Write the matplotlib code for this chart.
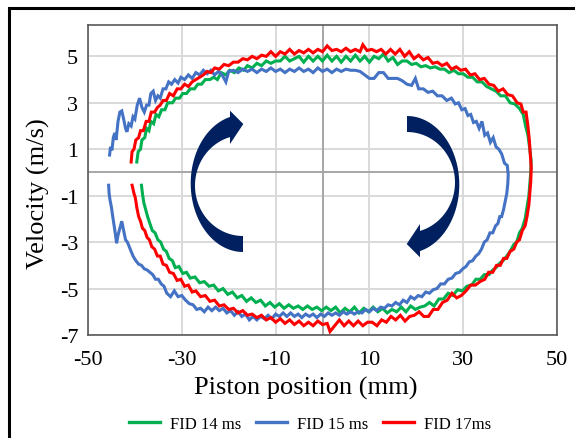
import numpy as np
import matplotlib
matplotlib.use("Agg")
import matplotlib.pyplot as plt
from matplotlib.patches import Polygon, Rectangle

plt.rcParams['font.family'] = ['Liberation Serif', 'DejaVu Serif']

# ---------------- data ----------------
labels = ["FID 14 ms", "FID 15 ms", "FID 17ms"]
colors = ["#00B050", "#4472C4", "#FF0000"]

x_ticks = [-50, -30, -10, 10, 30, 50]
y_ticks = [-7, -5, -3, -1, 1, 3, 5]

fid14_x = [-39.6, -39.3, -38.8, -38.5, -37.9, -37.5, -37.0, -36.6, -36.0, -35.5, -34.9, -34.3, -33.6, -33.0, -32.0,
           -31.3, -30.5, -29.8, -29.0, -28.2, -27.3, -26.6, -25.8, -25.0, -24.0, -23.2, -22.4, -21.6, -20.6, -19.8,
           -18.8, -17.8, -16.8, -16.0, -15.0, -14.0, -13.0, -12.0, -11.0, -10.0, -9.0, -8.0, -7.0, -6.0, -5.0,
           -4.0, -3.0, -2.0, -1.0, 0.0, 1.0, 2.0, 3.0, 4.0, 5.0, 6.0, 7.0, 8.0, 9.0, 10.0,
           11.0, 12.0, 13.0, 14.0, 15.0, 16.0, 17.0, 18.0, 19.0, 20.0, 21.0, 22.0, 23.0, 24.0, 25.0,
           26.0, 27.0, 28.0, 29.0, 30.0, 31.0, 32.0, 33.0, 34.0, 35.0, 36.0, 37.0, 38.0, 39.0, 40.0,
           41.0, 42.0, 42.8, 43.3, 43.8, 44.2, 44.5, 44.4, 44.2, 44.0, 43.6, 43.2, 42.6, 42.0, 41.4,
           40.8, 40.0, 39.3, 38.5, 37.8, 37.0, 36.3, 35.5, 34.5, 33.6, 32.7, 31.8, 30.8, 29.8, 28.8,
           27.8, 26.8, 25.8, 24.8, 23.8, 22.8, 21.8, 20.8, 19.8, 18.8, 17.8, 16.8, 15.8, 14.8, 13.8,
           12.8, 11.8, 10.8, 9.8, 8.8, 7.8, 6.8, 5.8, 4.8, 3.8, 2.8, 1.8, 0.8, -0.2, -1.2,
           -2.2, -3.2, -4.2, -5.2, -6.2, -7.2, -8.2, -9.2, -10.2, -11.2, -12.2, -13.2, -14.2, -15.2, -16.2,
           -17.2, -18.2, -19.2, -20.2, -21.2, -22.2, -23.2, -24.2, -25.2, -26.2, -27.2, -28.2, -29.0, -29.8, -30.6,
           -31.4, -32.0, -32.7, -33.3, -33.9, -34.5, -35.1, -35.7, -36.3, -36.8, -37.3, -37.7, -38.1, -38.4, -38.6]
fid14_y = [0.45, 0.9, 1.0, 1.4, 1.5, 1.9, 1.8, 2.2, 2.1, 2.5, 2.4, 2.7, 2.7, 3.0, 3.0,
           3.2, 3.2, 3.4, 3.4, 3.6, 3.6, 3.8, 3.8, 4.0, 4.0, 4.1, 4.0, 4.3, 4.2, 4.4,
           4.3, 4.5, 4.4, 4.6, 4.5, 4.7, 4.6, 4.8, 4.7, 4.8, 4.8, 5.0, 4.8, 4.9, 5.0,
           4.75, 5.0, 4.8, 5.0, 4.8, 5.05, 4.8, 5.0, 4.75, 5.0, 4.8, 5.05, 4.8, 5.0, 4.75,
           5.0, 4.9, 5.1, 4.8, 4.95, 4.65, 4.8, 4.8, 4.65, 4.7, 4.55, 4.6, 4.5, 4.55, 4.45,
           4.45, 4.3, 4.4, 4.25, 4.25, 4.1, 4.1, 3.9, 3.9, 3.7, 3.6, 3.5, 3.3, 3.3, 3.0,
           2.95, 2.75, 2.5, 2.0, 1.6, 1.0, 0.5, 0.0, -0.5, -1.0, -1.5, -2.0, -2.4, -2.6, -3.0,
           -3.1, -3.4, -3.6, -3.8, -3.9, -4.1, -4.2, -4.4, -4.4, -4.6, -4.6, -4.85, -4.9, -5.1, -5.05,
           -5.3, -5.2, -5.45, -5.45, -5.75, -5.6, -5.75, -5.8, -5.9, -5.75, -6.0, -5.8, -6.0, -5.9, -6.05,
           -5.85, -6.0, -5.8, -6.0, -5.85, -6.05, -5.8, -6.0, -5.85, -6.05, -5.8, -5.95, -5.8, -5.95, -5.8,
           -5.9, -5.75, -5.9, -5.75, -5.85, -5.7, -5.85, -5.65, -5.8, -5.6, -5.75, -5.5, -5.6, -5.4, -5.55,
           -5.3, -5.4, -5.15, -5.25, -5.0, -5.1, -4.85, -4.9, -4.7, -4.75, -4.5, -4.55, -4.3, -4.35, -4.05,
           -4.1, -3.8, -3.7, -3.4, -3.3, -3.0, -2.9, -2.6, -2.5, -2.2, -1.9, -1.6, -1.3, -0.9, -0.55]

fid15_x = [-45.4, -45.2, -44.9, -44.6, -44.3, -44.0, -43.6, -43.2, -42.8, -42.4, -42.0, -41.7, -41.3, -40.8, -40.4,
           -40.0, -39.5, -39.0, -38.5, -38.0, -37.5, -37.0, -36.6, -36.1, -35.6, -35.1, -34.6, -34.0, -33.4, -32.8,
           -32.2, -31.5, -30.8, -30.2, -29.4, -28.6, -27.8, -27.0, -26.2, -25.4, -24.6, -23.8, -23.0, -22.2, -21.4,
           -20.6, -20.0, -19.0, -18.0, -17.0, -16.0, -15.0, -14.0, -13.0, -12.0, -11.0, -10.0, -9.0, -8.0, -7.0,
           -6.0, -5.0, -4.0, -3.0, -2.0, -1.0, 0.0, 1.0, 2.0, 3.0, 4.0, 5.0, 6.0, 7.0, 8.0,
           9.0, 10.0, 11.0, 12.0, 13.0, 14.0, 15.0, 16.0, 17.0, 18.0, 19.0, 19.8, 20.5, 21.5, 22.5,
           23.5, 24.5, 25.5, 26.5, 27.5, 28.3, 29.0, 29.7, 30.4, 31.0, 31.6, 32.2, 32.8, 33.4, 34.0,
           34.6, 35.2, 35.8, 36.4, 37.0, 37.6, 38.2, 38.8, 39.4, 39.6, 39.5, 39.3, 39.0, 38.6, 38.2,
           37.8, 37.4, 36.9, 36.3, 35.7, 35.1, 34.5, 33.9, 33.3, 32.7, 32.0, 31.3, 30.6, 29.9, 29.2,
           28.4, 27.6, 26.8, 26.0, 25.2, 24.4, 23.6, 22.8, 22.0, 21.2, 20.4, 19.6, 18.8, 18.0, 17.2,
           16.4, 15.6, 14.8, 14.0, 13.2, 12.4, 11.6, 10.8, 10.0, 9.2, 8.4, 7.6, 6.8, 6.0, 5.2,
           4.4, 3.6, 2.8, 2.0, 1.2, 0.4, -0.4, -1.2, -2.0, -2.8, -3.6, -4.4, -5.2, -6.0, -6.8,
           -7.6, -8.4, -9.2, -10.0, -10.8, -11.6, -12.4, -13.2, -14.0, -14.8, -15.6, -16.4, -17.2, -18.0, -18.8,
           -19.6, -20.4, -21.2, -22.0, -22.8, -23.6, -24.4, -25.2, -26.0, -26.8, -27.6, -28.4, -29.2, -30.0, -30.8,
           -31.6, -32.4, -33.2, -33.8, -34.4, -35.0, -35.6, -36.2, -36.8, -37.4, -38.0, -38.6, -39.2, -39.8, -40.4,
           -41.0, -41.6, -42.0, -42.4, -42.8, -43.2, -43.6, -43.9, -44.2, -44.5, -44.8, -45.0, -45.3, -45.5, -45.6]
fid15_y = [0.75, 1.1, 0.95, 1.5, 1.7, 1.4, 2.2, 2.6, 2.65, 2.3, 1.9, 1.75, 2.1, 2.0, 2.4,
           2.3, 2.9, 3.2, 2.8, 2.6, 2.9, 2.9, 3.4, 3.5, 3.1, 3.3, 3.2, 3.6, 3.6, 3.9,
           3.8, 4.0, 3.85, 4.1, 4.0, 4.2, 4.05, 4.3, 4.2, 4.4, 4.25, 4.4, 4.2, 4.35, 4.2,
           3.9, 4.35, 4.4, 4.3, 4.45, 4.35, 4.45, 4.3, 4.45, 4.35, 4.5, 4.35, 4.45, 4.3, 4.45,
           4.35, 4.5, 4.35, 4.45, 4.3, 4.5, 4.35, 4.45, 4.3, 4.45, 4.35, 4.45, 4.4, 4.4, 4.35,
           4.2, 4.05, 4.05, 4.3, 4.3, 4.05, 4.05, 4.05, 3.95, 3.8, 3.75, 4.05, 3.6, 3.6, 3.45,
           3.5, 3.3, 3.3, 3.1, 3.2, 2.95, 3.0, 2.7, 2.75, 2.45, 2.5, 2.15, 2.2, 1.9, 2.2,
           1.6, 1.7, 1.3, 1.5, 1.1, 1.0, 0.8, 0.4, 0.3, -0.1, -0.5, -0.9, -1.2, -1.6, -1.9,
           -1.9, -2.2, -2.3, -2.6, -2.6, -2.9, -3.0, -3.3, -3.5, -3.6, -3.8, -3.85, -4.05, -4.15, -4.3,
           -4.35, -4.55, -4.6, -4.8, -4.8, -5.0, -5.05, -5.2, -5.15, -5.35, -5.3, -5.45, -5.35, -5.6, -5.5,
           -5.7, -5.6, -5.75, -5.7, -5.85, -5.8, -5.95, -5.85, -6.0, -5.9, -6.05, -6.0, -6.1, -6.0, -6.1,
           -6.0, -6.15, -6.05, -6.15, -6.05, -6.2, -6.1, -6.25, -6.1, -6.2, -6.1, -6.25, -6.1, -6.2, -6.05,
           -6.2, -6.05, -6.2, -6.1, -6.3, -6.15, -6.3, -6.2, -6.35, -6.2, -6.35, -6.1, -6.2, -6.0, -6.15,
           -5.95, -6.05, -5.85, -5.95, -5.8, -5.95, -5.8, -6.0, -5.85, -5.9, -5.7, -5.65, -5.5, -5.3, -5.35,
           -5.1, -5.35, -5.2, -4.9, -4.8, -4.6, -4.6, -4.4, -4.3, -4.2, -4.15, -4.0, -3.95, -3.8, -3.6,
           -3.3, -3.0, -2.9, -2.5, -2.1, -2.4, -2.7, -3.05, -2.6, -2.2, -1.8, -1.5, -1.2, -0.9, -0.55]

fid17_x = [-40.8, -40.6, -40.2, -39.8, -39.2, -38.8, -38.2, -37.6, -37.0, -36.5, -35.8, -35.2, -34.6, -34.0, -33.3,
           -32.6, -31.8, -31.0, -30.2, -29.4, -28.6, -27.8, -27.0, -26.2, -25.4, -24.6, -23.8, -23.0, -22.0, -21.0,
           -20.0, -19.0, -18.0, -17.0, -16.0, -15.0, -14.0, -13.0, -12.0, -11.0, -10.0, -9.0, -8.0, -7.0, -6.0,
           -5.0, -4.0, -3.0, -2.0, -1.0, 0.0, 1.0, 2.0, 3.0, 4.0, 5.0, 6.0, 7.0, 8.0, 8.6,
           9.5, 10.5, 11.5, 12.5, 13.5, 14.5, 15.5, 16.5, 17.5, 18.5, 19.5, 20.5, 21.5, 22.5, 23.5,
           24.5, 25.5, 26.5, 27.5, 28.5, 29.5, 30.5, 31.5, 32.5, 33.5, 34.5, 35.5, 36.5, 37.5, 38.5,
           39.5, 40.5, 41.5, 42.3, 42.8, 43.4, 43.8, 44.1, 44.3, 44.5, 44.4, 44.2, 44.0, 43.6, 43.2,
           42.6, 42.0, 41.4, 40.8, 40.0, 39.3, 38.6, 37.9, 37.1, 36.3, 35.4, 34.6, 33.6, 32.6, 31.6,
           30.6, 29.6, 28.6, 27.6, 26.6, 25.6, 24.6, 23.6, 22.6, 21.6, 20.6, 19.6, 18.6, 17.6, 16.6,
           15.6, 14.6, 13.6, 12.6, 11.6, 10.6, 9.6, 8.6, 7.6, 6.6, 5.6, 4.6, 3.6, 2.6, 1.6,
           1.0, 0.0, -1.0, -2.0, -3.0, -4.0, -5.0, -6.0, -7.0, -8.0, -9.0, -10.0, -11.0, -12.0, -13.0,
           -14.0, -15.0, -16.0, -17.0, -18.0, -19.0, -20.0, -21.0, -22.0, -23.0, -24.0, -25.0, -26.0, -27.0, -27.8,
           -28.6, -29.4, -30.2, -31.0, -31.8, -32.6, -33.3, -34.0, -34.6, -35.2, -35.8, -36.4, -36.9, -37.4, -37.9,
           -38.4, -38.8, -39.2, -39.6, -39.9, -40.2, -40.6]
fid17_y = [0.45, 0.9, 1.0, 1.4, 1.5, 1.8, 1.8, 2.2, 2.2, 2.6, 2.6, 2.8, 2.9, 3.1, 3.1,
           3.4, 3.3, 3.6, 3.6, 3.8, 3.7, 3.9, 4.0, 4.1, 4.2, 4.35, 4.3, 4.5, 4.45, 4.65,
           4.6, 4.75, 4.75, 4.9, 4.85, 5.0, 4.9, 5.05, 5.0, 5.2, 5.0, 5.2, 5.1, 5.3, 5.1,
           5.25, 5.15, 5.3, 5.15, 5.3, 5.2, 5.45, 5.25, 5.3, 5.2, 5.35, 5.2, 5.3, 5.2, 5.5,
           5.25, 5.3, 5.2, 5.3, 5.1, 5.3, 5.1, 5.3, 5.0, 5.2, 4.9, 5.05, 4.85, 4.95, 4.7,
           4.75, 4.6, 4.7, 4.45, 4.55, 4.4, 4.45, 4.2, 4.25, 4.0, 4.05, 3.8, 3.75, 3.5, 3.6,
           3.35, 3.3, 3.0, 2.95, 2.6, 2.6, 2.0, 1.4, 0.8, 0.2, -0.4, -0.9, -1.4, -1.9, -2.3,
           -2.5, -2.9, -3.0, -3.3, -3.4, -3.7, -3.7, -4.0, -4.0, -4.3, -4.3, -4.6, -4.7, -4.85, -4.85,
           -5.1, -5.3, -5.4, -5.2, -5.5, -5.6, -5.9, -5.9, -6.2, -6.2, -6.0, -6.15, -6.2, -6.4, -6.15,
           -6.35, -6.2, -6.45, -6.35, -6.6, -6.45, -6.45, -6.6, -6.4, -6.6, -6.4, -6.6, -6.35, -6.6, -6.85,
           -6.5, -6.55, -6.4, -6.6, -6.45, -6.6, -6.4, -6.55, -6.35, -6.5, -6.3, -6.45, -6.25, -6.35, -6.15,
           -6.25, -6.1, -6.15, -5.95, -6.05, -5.85, -5.9, -5.7, -5.75, -5.5, -5.55, -5.3, -5.35, -5.1, -5.15,
           -4.85, -4.9, -4.6, -4.65, -4.35, -4.3, -4.0, -3.95, -3.6, -3.6, -3.3, -3.2, -2.9, -2.8, -2.5,
           -2.4, -2.1, -1.9, -1.5, -1.1, -0.9, -0.55]

series_x = [fid14_x, fid15_x, fid17_x]
series_y = [fid14_y, fid15_y, fid17_y]

# ---------------- figure ----------------
W, H = 575, 439
fig = plt.figure(figsize=(W / 100, H / 100), dpi=100)
fig.patch.set_facecolor("white")

def fx(px):
    return px / W

def fy(py):
    return 1 - py / H

ax_l, ax_r, ax_t, ax_b = 88, 557, 26, 336
ax = fig.add_axes([fx(ax_l), fy(ax_b), fx(ax_r) - fx(ax_l), fy(ax_t) - fy(ax_b)])

ax.set_xlim(-50, 50)
ax.set_ylim(-7, 6.35)
ax.set_xticks(x_ticks)
ax.set_yticks(y_ticks)
ax.set_xticklabels([str(v) for v in x_ticks])
ax.set_yticklabels([str(v) for v in y_ticks])
ax.tick_params(length=0, labelsize=16, colors="black")
ax.tick_params(axis="x", pad=11)
ax.tick_params(axis="y", pad=7)
ax.grid(True, color="#D9D9D9", linewidth=1.4, zorder=0)
ax.set_axisbelow(True)
ax.axhline(0, color="#A6A6A6", linewidth=1.4, zorder=1)
ax.axvline(0, color="#A6A6A6", linewidth=1.4, zorder=1)
for s in ax.spines.values():
    s.set_color("#595959")
    s.set_linewidth(1.2)

handles = []
for xs, ys, c, lab in zip(series_x, series_y, colors, labels):
    h, = ax.plot(xs, ys, color=c, linewidth=2.2, label=lab, zorder=3, solid_joinstyle="miter")
    handles.append(h)

# axis labels
fig.text(fx(306), fy(395), "Piston position (mm)", fontsize=19, ha="center", va="baseline")
fig.text(fx(38), fy(194), "Velocity (m/s)", fontsize=19, ha="center", va="center", rotation=90)

# legend
leg = fig.legend(handles=handles, labels=labels, loc="center", bbox_to_anchor=(fx(310), fy(425)),
                 ncol=3, frameon=False, fontsize=12, handlelength=1.85, handletextpad=0.6,
                 columnspacing=0.9)
for lh in leg.get_lines():
    lh.set_linewidth(2.4)

# curved arrows (annotation shapes, in figure pixels)
def left_arrow():
    pts = []
    cx, cy, a, b = 243, 184.4, 52.3, 68.6
    for t in np.linspace(np.radians(90), np.radians(255.6), 60):
        pts.append((cx + a * np.cos(t), cy + b * np.sin(t)))
    pts += [(230, 111.7), (243.3, 125), (230, 145)]
    cx2, cy2, a2, b2 = 243, 186.6, 48, 50.4
    for t in np.linspace(np.radians(254.3), np.radians(90), 60):
        pts.append((cx2 + a2 * np.cos(t), cy2 + b2 * np.sin(t)))
    return pts

la = left_arrow()
ra = [(650 - x, 370 - y) for x, y in la]
for pts in (la, ra):
    poly = Polygon([(fx(x), fy(y)) for x, y in pts], closed=True, transform=fig.transFigure,
                   facecolor="#002060", edgecolor="none", zorder=5)
    fig.add_artist(poly)

# outer frame (partially cropped in the reference)
frame = Rectangle((fx(9), -0.1), 1.2, fy(9) + 0.1, transform=fig.transFigure, fill=False,
                  edgecolor="black", linewidth=2.2, clip_on=False, zorder=10)
fig.add_artist(frame)

fig.savefig("out.png", dpi=100)
